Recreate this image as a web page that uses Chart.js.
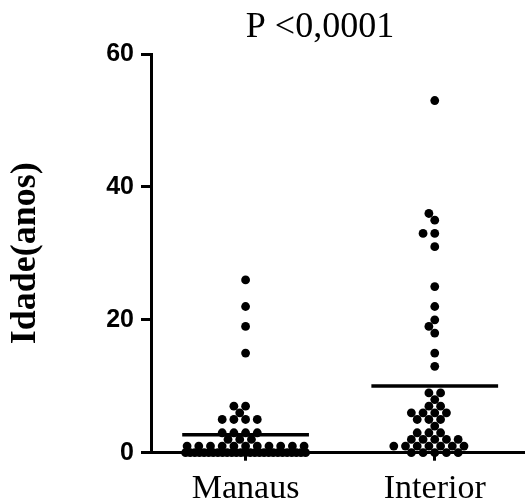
<!DOCTYPE html>
<html>
<head>
<meta charset="utf-8">
<script src="https://cdn.jsdelivr.net/npm/chart.js@4/dist/chart.umd.min.js"></script>
<style>
  body { margin: 0; background: #fff; }
  #wrap { width: 529px; height: 504px; }
</style>
</head>
<body>
<div id="wrap"><canvas id="myChart"></canvas></div>
<script>
var groups = ["Manaus", "Interior"];
var titleText = "P <0,0001";
var yTicks = [0, 20, 40, 60];

// idade (anos) de cada paciente
var manaus = [26, 22, 19, 15, 7, 7, 6, 5, 5, 5, 5, 3, 3, 3, 3, 2, 2, 2,
  1, 1, 1, 1, 1, 1, 1, 1, 1, 1, 1,
  0, 0, 0, 0, 0, 0, 0, 0, 0, 0, 0, 0, 0, 0, 0, 0, 0, 0, 0, 0, 0, 0, 0, 0, 0, 0, 0];
var interior = [53, 36, 35, 33, 33, 31, 25, 22, 20, 19, 18, 15, 13, 9, 9, 8, 7, 7,
  6, 6, 6, 6, 5, 5, 5, 4, 3, 3, 3, 2, 2, 2, 2, 2,
  1, 1, 1, 1, 1, 1, 1, 0, 0, 0, 0, 0];

var series = [manaus, interior];

function mean(arr) {
  var s = 0;
  arr.forEach(function (v) { s += v; });
  return s / arr.length;
}

var halfLine = 0.335;
var datasets = [];

// linhas da média (desenhadas por cima)
series.forEach(function (vals, g) {
  var m = mean(vals);
  datasets.push({
    data: [{ x: g - halfLine, y: m }, { x: g + halfLine, y: m }],
    showLine: true,
    borderColor: "#000",
    borderWidth: 3.5,
    pointRadius: 0,
    clip: false
  });
});

series.forEach(function (vals, g) {
  datasets.push({
    data: vals.map(function (v) { return { x: g, y: v }; }),
    pointRadius: 4.4,
    pointBorderWidth: 0,
    pointBackgroundColor: "#000",
    showLine: false,
    clip: false
  });
});

var titlePlugin = {
  id: "pTitle",
  afterDraw: function (chart) {
    var ctx = chart.ctx;
    ctx.save();
    ctx.font = "36px 'Liberation Serif'";
    ctx.fillStyle = "#000";
    ctx.textAlign = "center";
    ctx.textBaseline = "middle";
    ctx.fillText(titleText, 320, 28);
    ctx.restore();
  }
};

var chart = new Chart("myChart", {
  type: "scatter",
  data: { datasets: datasets },
  plugins: [titlePlugin],
  options: {
    responsive: true,
    maintainAspectRatio: false,
    animation: false,
    layout: { padding: { top: 54, left: 0, right: 0, bottom: 0 } },
    plugins: {
      legend: { display: false },
      tooltip: { enabled: false }
    },
    scales: {
      x: {
        type: "linear",
        min: -0.5,
        max: 1.475,
        afterBuildTicks: function (scale) {
          scale.ticks = groups.map(function (n, i) { return { value: i }; });
        },
        afterFit: function (scale) { scale.height = 51.3; },
        ticks: {
          padding: 8,
          color: "#000",
          font: { family: "'Liberation Serif'", size: 34 },
          callback: function (v) { return groups[v]; }
        },
        grid: {
          drawOnChartArea: false,
          tickLength: 8,
          tickWidth: 3,
          tickColor: "#000"
        },
        border: { color: "#000", width: 3 }
      },
      y: {
        min: 0,
        max: 60,
        afterBuildTicks: function (scale) {
          scale.ticks = yTicks.map(function (v) { return { value: v }; });
        },
        afterFit: function (scale) { scale.width = 151; },
        ticks: {
          padding: 7,
          color: "#000",
          font: { family: "'Liberation Sans'", size: 25, weight: "bold" }
        },
        grid: {
          drawOnChartArea: false,
          tickLength: 10,
          tickWidth: 3,
          tickColor: "#000"
        },
        border: { color: "#000", width: 3 },
        title: {
          display: true,
          text: "Idade(anos)",
          color: "#000",
          padding: { top: 4, bottom: 0 },
          font: { family: "'Liberation Serif'", size: 36, weight: "bold" }
        }
      }
    }
  }
});

// espalha os pontos de cada grupo (beeswarm simples)
function swarm(vals, g) {
  var step = 11.7, diam = 8.2, maxHalf = 60;
  var ys = chart.scales.y, xs = chart.scales.x;
  var pxPerX = xs.getPixelForValue(1) - xs.getPixelForValue(0);
  var counts = {};
  vals.forEach(function (v) { counts[v] = (counts[v] || 0) + 1; });
  var keys = Object.keys(counts).map(Number).sort(function (a, b) { return a - b; });
  var placed = [];
  var out = [];
  keys.forEach(function (v) {
    var n = counts[v], py = ys.getPixelForValue(v);
    var i;
    if ((n - 1) * step > 2 * maxHalf) {
      for (i = 0; i < n; i++) {
        var p = -maxHalf + i * 2 * maxHalf / (n - 1);
        out.push({ x: g + p / pxPerX, y: v });
      }
      return;
    }
    var row = [];
    for (i = 0; i < n; i++) {
      for (var k = 0; k < 200; k++) {
        var m = Math.ceil(k / 2) * (k % 2 ? -1 : 1);
        var px = m * step / 2;
        var hitRow = row.some(function (q) { return Math.abs(q - px) < step - 0.01; });
        var hitOther = placed.some(function (q) { return Math.hypot(q.px - px, q.py - py) < diam; });
        if (!hitRow && !hitOther) { row.push(px); break; }
      }
    }
    row.forEach(function (px) {
      placed.push({ px: px, py: py });
      out.push({ x: g + px / pxPerX, y: v });
    });
  });
  return out;
}

series.forEach(function (vals, g) {
  chart.data.datasets[series.length + g].data = swarm(vals, g);
});
chart.update("none");
</script>
</body>
</html>
